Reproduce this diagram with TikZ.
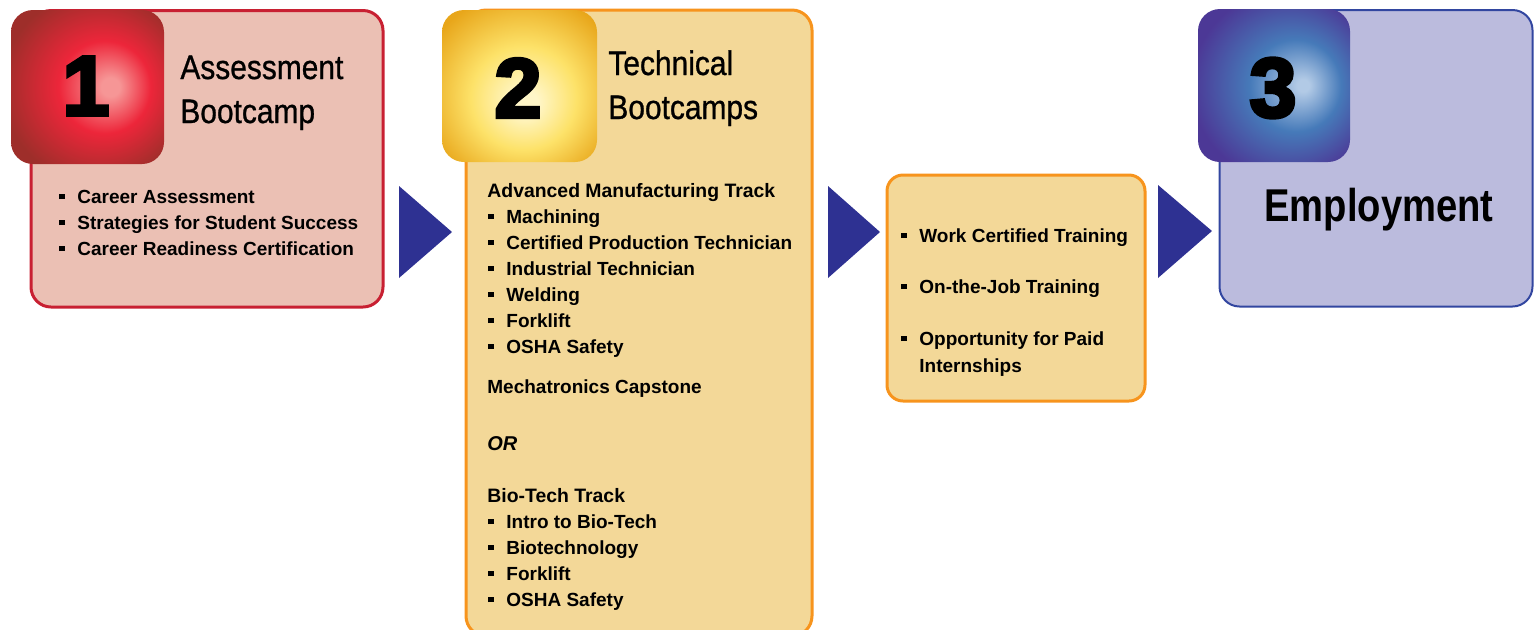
\documentclass[tikz,border=0pt]{standalone}
\usepackage{fontspec}
\setmainfont{Liberation Sans}
\newfontfamily\titlefont[FakeStretch=0.88,FakeBold=0.8]{Liberation Sans}
\newfontfamily\numfont[FakeBold=4.5]{Liberation Sans}
\newfontfamily\empfont[FakeStretch=0.83]{Liberation Sans}
\definecolor{pinkf}{RGB}{235,192,180}
\definecolor{redb}{RGB}{200,32,50}
\definecolor{yellowf}{RGB}{243,216,152}
\definecolor{orangeb}{RGB}{247,148,29}
\definecolor{purplef}{RGB}{187,187,221}
\definecolor{blueb}{RGB}{50,70,160}
\definecolor{arrowc}{RGB}{46,49,146}
\definecolor{rA}{RGB}{246,150,150}
\definecolor{rB}{RGB}{237,38,58}
\definecolor{rC}{RGB}{158,46,42}
\definecolor{yA}{RGB}{255,246,200}
\definecolor{yB}{RGB}{253,226,105}
\definecolor{yC}{RGB}{232,166,26}
\definecolor{bA}{RGB}{178,202,230}
\definecolor{bB}{RGB}{70,122,185}
\definecolor{bC}{RGB}{76,56,150}
\pgfdeclareradialshading{glowone}{\pgfpoint{8bp}{0bp}}{color(0bp)=(rA); color(3bp)=(rA); color(15bp)=(rB); color(31bp)=(rC); color(50bp)=(rC)}
\pgfdeclareradialshading{glowtwo}{\pgfpoint{2bp}{-6bp}}{color(0bp)=(yA); color(4bp)=(yA); color(17bp)=(yB); color(33bp)=(yC); color(50bp)=(yC)}
\pgfdeclareradialshading{glowthree}{\pgfpoint{10bp}{0bp}}{color(0bp)=(bA); color(2bp)=(bA); color(15bp)=(bB); color(31bp)=(bC); color(50bp)=(bC)}
\newcommand{\bsq}{\makebox[9pt][l]{\rule[1.9pt]{2.7pt}{2.7pt}}}
\begin{document}
\begin{tikzpicture}[x=0.5pt,y=-0.5pt,
  itemtxt/.style={anchor=base west,inner sep=0pt,font=\bfseries\fontsize{9.5}{11}\selectfont},
  headtxt/.style={anchor=base west,inner sep=0pt,font=\bfseries\fontsize{9.7}{11}\selectfont},
  titletxt/.style={anchor=base west,inner sep=0pt,font=\titlefont\fontsize{17}{20}\selectfont},
  numtxt/.style={inner sep=0pt,font=\numfont\bfseries\fontsize{42}{46}\selectfont},
  bigbox/.style={line width=1.5pt,rounded corners=10pt},
  numsq/.style={rounded corners=11pt}]
\useasboundingbox (0,0) rectangle (1539,629);
% box 1
\draw[bigbox,draw=redb,fill=pinkf] (31,10.5) rectangle (383,307);
\shade[numsq,shading=glowone] (11,10) rectangle (164,164);
\node[numtxt] (n1) at (86,86) {1};
\node[titletxt] (t1a) at (180,79) {Assessment};
\node[titletxt] (t1b) at (180,123) {Bootcamp};
\node[itemtxt] (a1) at (59,203) {\bsq Career Assessment};
\node[itemtxt] (a2) at (59,229) {\bsq Strategies for Student Success};
\node[itemtxt] (a3) at (59,255) {\bsq Career Readiness Certification};
% box 2
\draw[bigbox,draw=orangeb,fill=yellowf] (466,10) rectangle (812,636);
\shade[numsq,shading=glowtwo] (442,10) rectangle (597,162);
\node[numtxt] (n2) at (518,88) {2};
\node[titletxt] (t2a) at (608,75) {Technical};
\node[titletxt] (t2b) at (608,119) {Bootcamps};
\node[headtxt] (h1) at (487,197) {Advanced Manufacturing Track};
\node[itemtxt] (b1) at (488,223) {\bsq Machining};
\node[itemtxt] (b2) at (488,249) {\bsq Certified Production Technician};
\node[itemtxt] (b3) at (488,275) {\bsq Industrial Technician};
\node[itemtxt] (b4) at (488,301) {\bsq Welding};
\node[itemtxt] (b5) at (488,327) {\bsq Forklift};
\node[itemtxt] (b6) at (488,353) {\bsq OSHA Safety};
\node[itemtxt] (mc) at (487,393) {Mechatronics Capstone};
\node[itemtxt,font=\bfseries\itshape\fontsize{10}{11}\selectfont] (or) at (487,450) {OR};
\node[headtxt] (h2) at (487,502) {Bio-Tech Track};
\node[itemtxt] (c1) at (488,528) {\bsq Intro to Bio-Tech};
\node[itemtxt] (c2) at (488,554) {\bsq Biotechnology};
\node[itemtxt] (c3) at (488,580) {\bsq Forklift};
\node[itemtxt] (c4) at (488,606) {\bsq OSHA Safety};
% work box
\draw[line width=1.5pt,rounded corners=8pt,draw=orangeb,fill=yellowf] (887,175) rectangle (1145,401);
\node[itemtxt] (w1) at (901,242) {\bsq Work Certified Training};
\node[itemtxt] (w2) at (901,293) {\bsq On-the-Job Training};
\node[itemtxt] (w3) at (901,345) {\bsq Opportunity for Paid};
\node[itemtxt] (w4) at (919,372) {Internships};
% box 3
\draw[line width=1pt,rounded corners=10pt,draw=blueb,fill=purplef] (1219.5,10) rectangle (1532.5,306.5);
\shade[numsq,shading=glowthree] (1198,9) rectangle (1350,162);
\node[numtxt] (n3) at (1273,88) {3};
\node[anchor=base,inner sep=0pt,font=\empfont\bfseries\fontsize{23}{26}\selectfont] (emp) at (1379,221) {Employment};
% arrows
\fill[arrowc] (399,186) -- (452,232) -- (399,278) -- cycle;
\fill[arrowc] (828,186) -- (880,232) -- (828,278) -- cycle;
\fill[arrowc] (1158,185) -- (1212,231) -- (1158,278) -- cycle;
\end{tikzpicture}
\end{document}
